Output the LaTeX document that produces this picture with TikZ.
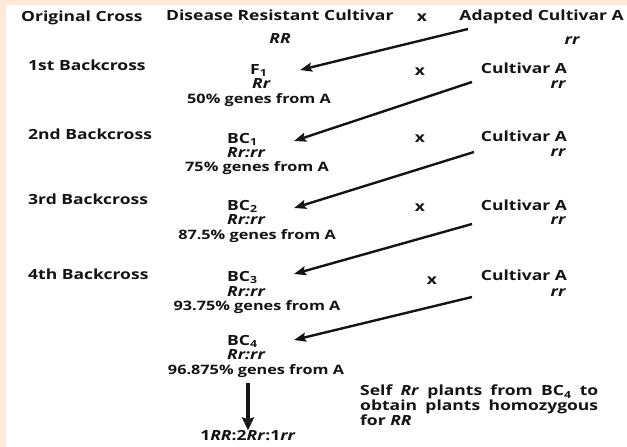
\documentclass[tikz,border=0pt]{standalone}
\usepackage{fontspec}
\setmainfont[FakeStretch=1.25]{Open Sans}
\usetikzlibrary{arrows.meta}
\definecolor{peach}{HTML}{FCE9DA}
\definecolor{ink}{HTML}{141414}
\begin{document}
\begin{tikzpicture}[x=1pt,y=-1pt,
  lbl/.style={font=\bfseries\fontsize{14}{15}\selectfont, inner sep=0pt, text=ink, anchor=mid},
  gen/.style={font=\bfseries\itshape\fontsize{14}{15}\selectfont, inner sep=0pt, text=ink, anchor=mid},
  pct/.style={font=\bfseries\fontsize{13}{15}\selectfont, inner sep=0pt, text=ink, anchor=mid},
  back/.style={-{Stealth[length=12pt,width=9pt,inset=2pt]}, line width=2.4pt, draw=ink},
  down/.style={-{Stealth[length=13pt,width=12pt,inset=2pt]}, line width=3.2pt, draw=ink}]
\fill[peach] (0,0) rectangle (627,447);
\fill[white] (6,5) rectangle (627,447);
\useasboundingbox (0,0) rectangle (627,447);
% header row
\node[lbl, anchor=mid west] (orig) at (21,19) {Original Cross};
\node[lbl, anchor=mid west] (drc) at (166,18) {Disease Resistant Cultivar};
\node[lbl] (x0) at (422,19) {x};
\node[lbl, anchor=mid east] (aca) at (624,18) {Adapted Cultivar A};
\node[gen] (RR) at (280,41) {RR};
\node[gen] (rr0) at (572,42) {rr};
% row 1
\node[lbl, anchor=mid west] (b1) at (28,68) {1st Backcross};
\node[lbl, anchor=mid west] (F1) at (250,72) {F\textsubscript{1}};
\node[gen, anchor=mid west] (g1) at (252,86) {Rr};
\node[pct] (p1) at (259,101) {50\% genes from A};
\node[lbl] (x1) at (420,73) {x};
\node[lbl] (c1) at (524,71) {Cultivar A};
\node[gen] (r1) at (558,86) {rr};
% row 2
\node[lbl, anchor=mid west] (b2) at (28,137) {2nd Backcross};
\node[lbl, anchor=mid west] (BC1) at (227,141) {BC\textsubscript{1}};
\node[gen, anchor=mid west] (g2) at (227,155) {Rr:rr};
\node[pct] (p2) at (257,169) {75\% genes from A};
\node[lbl] (x2) at (420,140) {x};
\node[lbl] (c2) at (524,139) {Cultivar A};
\node[gen] (r2) at (558,154) {rr};
% row 3
\node[lbl, anchor=mid west] (b3) at (28,202) {3rd Backcross};
\node[lbl, anchor=mid west] (BC2) at (227,208) {BC\textsubscript{2}};
\node[gen, anchor=mid west] (g3) at (227,222) {Rr:rr};
\node[pct] (p3) at (257,237) {87.5\% genes from A};
\node[lbl] (x3) at (420,209) {x};
\node[lbl] (c3) at (524,208) {Cultivar A};
\node[gen] (r3) at (558,222) {rr};
% row 4
\node[lbl, anchor=mid west] (b4) at (28,277) {4th Backcross};
\node[lbl, anchor=mid west] (BC3) at (227,279) {BC\textsubscript{3}};
\node[gen, anchor=mid west] (g4) at (227,294) {Rr:rr};
\node[pct] (p4) at (257,308) {93.75\% genes from A};
\node[lbl] (x4) at (432,282) {x};
\node[lbl] (c4) at (524,278) {Cultivar A};
\node[gen] (r4) at (558,294) {rr};
% row 5
\node[lbl, anchor=mid west] (BC4) at (227,343) {BC\textsubscript{4}};
\node[gen, anchor=mid west] (g5) at (227,357) {Rr:rr};
\node[pct] (p5) at (256,372) {96.875\% genes from A};
\node[lbl] (res) at (248,438) {1\textit{RR}:2\textit{Rr}:1\textit{rr}};
\node[lbl, anchor=north west, text width=238pt, align=justify] (self) at (360,385)
  {Self \textit{Rr} plants from BC\textsubscript{4} to\linebreak obtain plants homozygous\linebreak for \textit{RR}};
% arrows
\coordinate (s0) at (468,29);
\coordinate (s1) at (472,82);
\coordinate (s2) at (474,152);
\coordinate (s3) at (472,224);
\coordinate (s4) at (472,297);
\coordinate (t0) at (300,70);
\coordinate (t1) at (294,141);
\coordinate (t2) at (294,208);
\coordinate (t3) at (294,274);
\coordinate (t4) at (294,340);
\draw[back] (s0) -- (t0);
\draw[back] (s1) -- (t1);
\draw[back] (s2) -- (t2);
\draw[back] (s3) -- (t3);
\draw[back] (s4) -- (t4);
\coordinate (d0) at (248,383);
\draw[down] (d0) -- (res.north);
\end{tikzpicture}
\end{document}
